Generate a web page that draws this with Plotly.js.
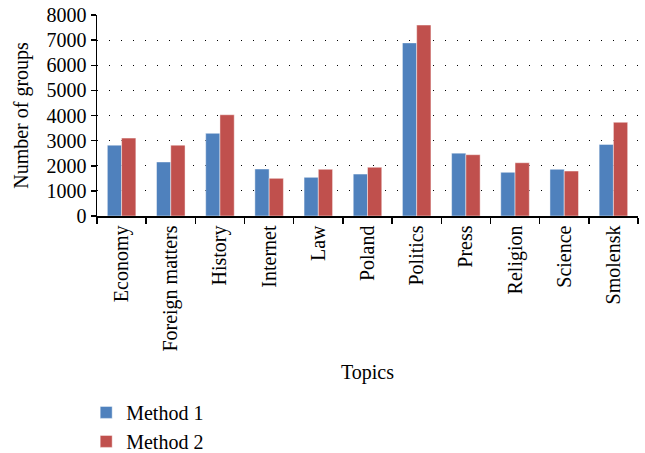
<!DOCTYPE html>
<html>
<head>
<meta charset="utf-8">
<script src="https://cdn.plot.ly/plotly-3.0.1.min.js"></script>
<style>
  html, body { margin: 0; padding: 0; background: #fff; }
  #chart { width: 645px; height: 453px; }
</style>
</head>
<body>
<div id="chart"></div>
<script>
// Number of groups per topic, for the two grouping methods
const topics = ["Economy", "Foreign matters", "History", "Internet", "Law", "Poland",
                "Politics", "Press", "Religion", "Science", "Smolensk"];
const method1 = [2820, 2150, 3290, 1870, 1540, 1670, 6890, 2500, 1740, 1860, 2850];
const method2 = [3100, 2820, 4030, 1500, 1860, 1940, 7600, 2440, 2120, 1790, 3730];
const yTicks = [0, 1000, 2000, 3000, 4000, 5000, 6000, 7000, 8000];

const serif = "Liberation Serif, Times New Roman, serif";
const txt = { family: serif, size: 20, color: "#000" };

const traces = [
  {
    type: "bar", name: "Method 1", x: topics, y: method1,
    marker: { color: "#4F81BD", line: { color: "rgba(255,255,255,0.45)", width: 1 } }
  },
  {
    type: "bar", name: "Method 2", x: topics, y: method2,
    marker: { color: "#C0504D", line: { color: "rgba(255,255,255,0.45)", width: 1 } }
  }
];

const layout = {
  width: 645, height: 453,
  margin: { l: 97, r: 7, t: 15, b: 237, autoexpand: false },
  paper_bgcolor: "#fff", plot_bgcolor: "#fff",
  font: txt,
  barmode: "group",
  bargap: 0.42, bargroupgap: 0,
  showlegend: true,
  legend: {
    x: -0.02, xanchor: "left", y: -0.88, yanchor: "top",
    orientation: "v", font: txt,
    tracegroupgap: 0, itemwidth: 30
  },
  xaxis: {
    type: "category",
    automargin: false,
    tickangle: -90,
    tickson: "boundaries",
    ticks: "outside", ticklen: 6, tickcolor: "#000", tickwidth: 1.5,
    showline: true, linecolor: "#000", linewidth: 1.5,
    showgrid: false,
    tickfont: txt,
    title: { text: "Topics", font: txt, standoff: 14 }
  },
  yaxis: {
    automargin: false,
    range: [0, 8000],
    tickvals: yTicks,
    ticktext: yTicks.map(String),
    ticks: "outside", ticklen: 5, tickcolor: "#000", tickwidth: 1.5,
    showline: true, linecolor: "#000", linewidth: 1.5,
    showgrid: true, gridcolor: "#000", gridwidth: 1.2, griddash: "1px,11px",
    zeroline: false,
    tickfont: txt,
    title: { text: "Number of groups", font: txt, standoff: 12 }
  }
};

Plotly.newPlot("chart", traces, layout, { displayModeBar: false, staticPlot: true });
</script>
</body>
</html>
